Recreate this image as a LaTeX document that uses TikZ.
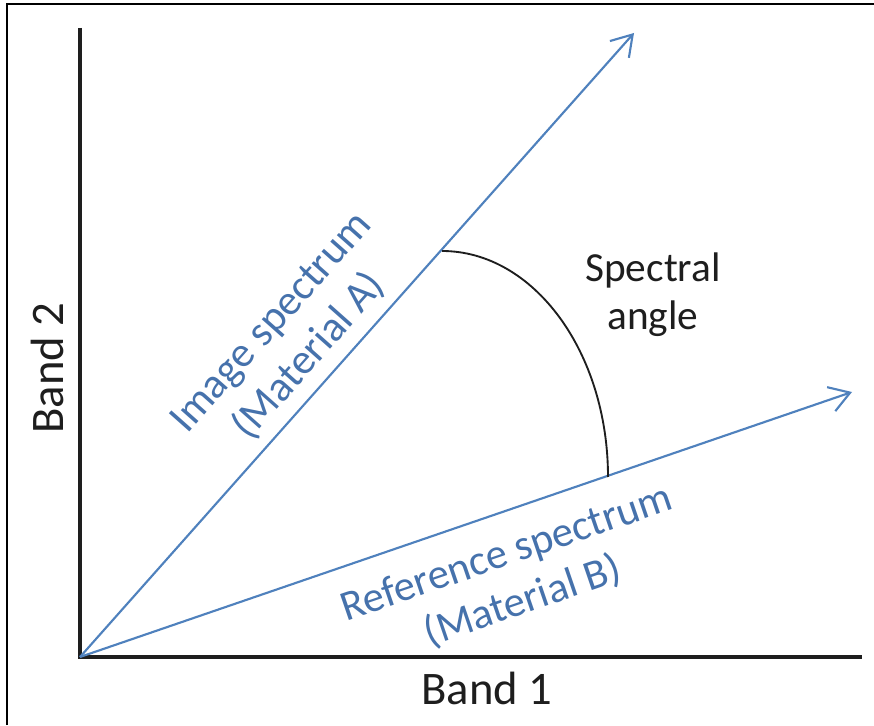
\documentclass[tikz,border=0pt]{standalone}
\usepackage{fontspec}
\setmainfont{Carlito}
\usetikzlibrary{arrows.meta, calc}
\definecolor{vecblue}{HTML}{4F81BD}
\definecolor{lblblue}{HTML}{4672AC}
\definecolor{inkdark}{HTML}{1E1E1E}

\begin{document}
\begin{tikzpicture}[
    x=0.75pt, y=0.75pt,
    every node/.style={inner sep=0pt},
    axis/.style={draw=inkdark, line width=2.6pt, line join=miter},
    vec/.style={draw=vecblue, line width=1.6pt,
                -{Straight Barb[length=15pt, width=19pt, line width=1.6pt]}},
    anglearc/.style={draw=inkdark, line width=1.4pt},
    axlbl/.style={text=inkdark, font=\fontsize{35}{40}\selectfont},
    veclbl/.style={text=lblblue, align=center, font=\fontsize{32}{38}\selectfont},
    anglbl/.style={text=inkdark, align=center, font=\fontsize{31}{36}\selectfont}
]
    \useasboundingbox (0,0) rectangle (874,725);
    % frame
    \draw[line width=2pt] (7,0) -- (7,721) -- (874,721);

    \coordinate (O)      at (80,68);
    \coordinate (ytop)   at (80,697);
    \coordinate (xend)   at (862,68);
    \coordinate (imgtip) at (634,692);
    \coordinate (reftip) at (852,333);
    \coordinate (arcA)   at (442,474);

    % axes
    \draw[axis] (ytop) -- (O) -- (xend);

    % spectra
    \draw[vec] (O) -- (imgtip);
    \draw[vec] (O) -- (reftip);

    % angle between them
    \draw[anglearc] (arcA) arc[start angle=90, end angle=0, x radius=166, y radius=226];

    \node[axlbl] (band1) at (487,37) {Band 1};
    \node[axlbl, rotate=90] (band2) at (47,357) {Band 2};
    \node[anglbl] (ang) at (653,430) {Spectral\\angle};
    \node[veclbl, rotate=48.4] (imglbl) at (291,385) {Image spectrum\\(Material A)};
    \node[veclbl, rotate=18.9] (reflbl) at (515,147) {Reference spectrum\\(Material B)};
\end{tikzpicture}
\end{document}
